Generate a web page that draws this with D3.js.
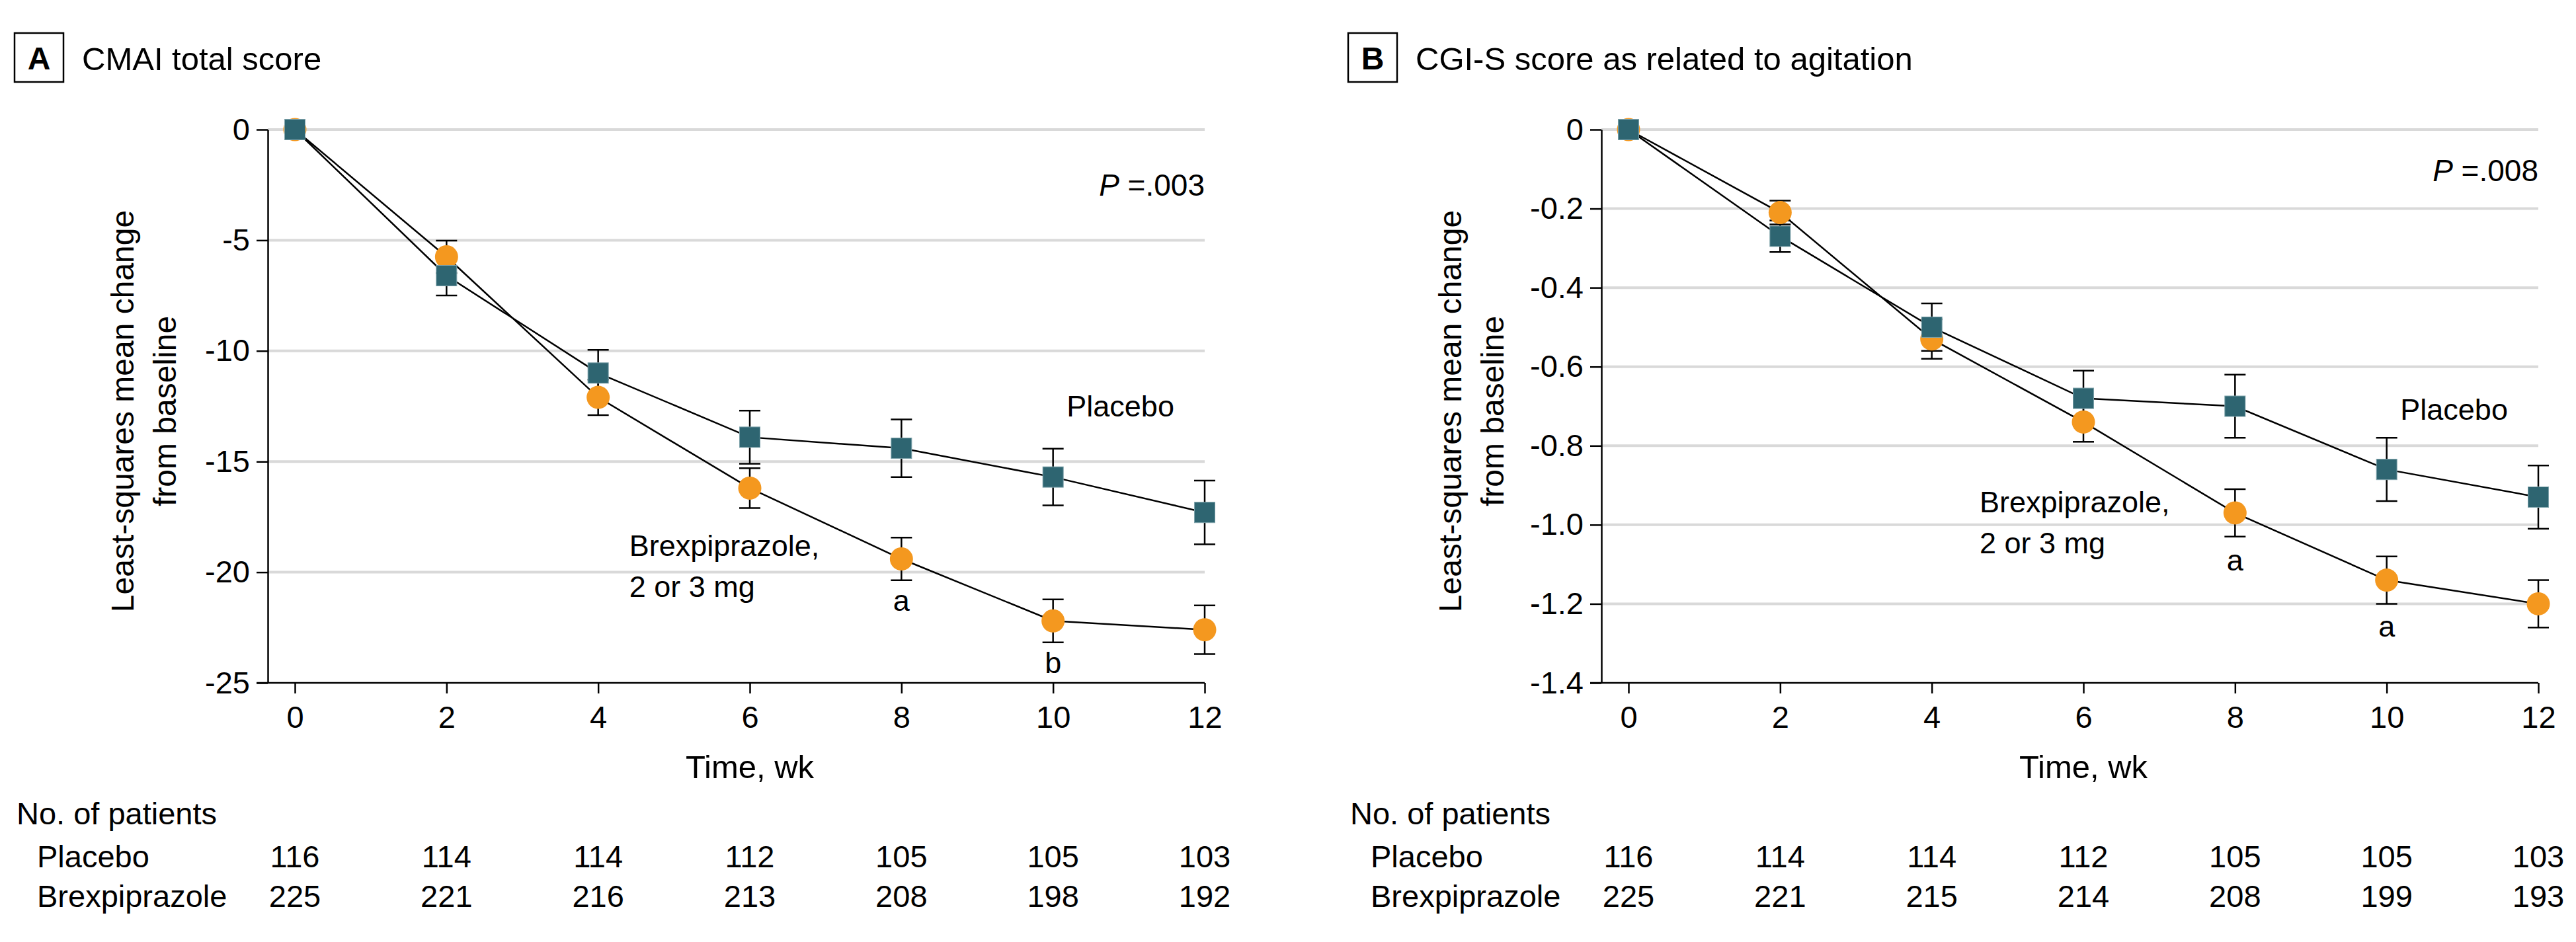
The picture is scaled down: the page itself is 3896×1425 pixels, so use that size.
<!DOCTYPE html>
<html>
<head>
<meta charset="utf-8">
<script src="https://cdn.jsdelivr.net/npm/d3@7"></script>
<style>
  body { margin: 0; background: #fff; }
  svg text { font-family: "Liberation Sans", Arial, sans-serif; fill: #000; }
</style>
</head>
<body>
<svg id="viz" width="3896" height="1425"></svg>
<script>
"use strict";
// weeks on the x axis
const weeks = [0, 2, 4, 6, 8, 10, 12];

// panel A: CMAI total score
const placeboA = [0, -6.6, -11.0, -13.9, -14.4, -15.7, -17.3];
const placeboASe = [0, 0.9, 1.05, 1.2, 1.3, 1.28, 1.44];
const brexA = [0, -5.75, -12.1, -16.2, -19.4, -22.2, -22.6];
const brexASe = [0, 0.73, 0.8, 0.9, 0.96, 0.97, 1.1];
const yTicksA = [0, -5, -10, -15, -20, -25];
const yLabelsA = ["0", "-5", "-10", "-15", "-20", "-25"];
const nPlaceboA = [116, 114, 114, 112, 105, 105, 103];
const nBrexA = [225, 221, 216, 213, 208, 198, 192];

// panel B: CGI-S score
const placeboB = [0, -0.27, -0.50, -0.68, -0.70, -0.86, -0.93];
const placeboBSe = [0, 0.04, 0.06, 0.07, 0.08, 0.08, 0.08];
const brexB = [0, -0.21, -0.53, -0.74, -0.97, -1.14, -1.20];
const brexBSe = [0, 0.03, 0.05, 0.05, 0.06, 0.06, 0.06];
const yTicksB = [0, -0.2, -0.4, -0.6, -0.8, -1.0, -1.2, -1.4];
const yLabelsB = ["0", "-0.2", "-0.4", "-0.6", "-0.8", "-1.0", "-1.2", "-1.4"];
const nPlaceboB = [116, 114, 114, 112, 105, 105, 103];
const nBrexB = [225, 221, 215, 214, 208, 199, 193];

const svg = d3.select("#viz");
const teal = "#2e6571", orange = "#f4981f", grid = "#d9d9d9";

function drawPanel(p) {
    let g = svg.append("g").attr("transform", `translate(${p.dx}, 0)`);
    let axisX = 405, top = 196, bottom = 1033;
    let x = d3.scaleLinear().domain([0, 12]).range([446, 1822]);
    let y = d3.scaleLinear().domain([0, p.yTicks[p.yTicks.length - 1]]).range([top, bottom]);

    // title
    g.append("rect").attr("x", 22).attr("y", 50).attr("width", 74).attr("height", 74)
        .attr("fill", "none").attr("stroke", "#000").attr("stroke-width", 2.5);
    g.append("text").attr("x", 59).attr("y", 105).attr("text-anchor", "middle")
        .style("font-size", "48px").style("font-weight", "bold").text(p.letter);
    g.append("text").attr("x", 124).attr("y", 106).style("font-size", "49px").text(p.title);

    // gridlines
    g.selectAll(".grid").data(p.yTicks.slice(0, -1)).enter().append("line")
        .attr("x1", axisX).attr("x2", x(12))
        .attr("y1", d => y(d)).attr("y2", d => y(d))
        .attr("stroke", grid).attr("stroke-width", 4);

    // axes
    let ya = g.append("g").attr("transform", `translate(${axisX}, 0)`)
        .call(d3.axisLeft(y).tickValues(p.yTicks).tickFormat((d, i) => p.yLabels[i])
            .tickSize(17).tickSizeOuter(0).tickPadding(10));
    ya.select(".domain").attr("stroke-width", 2.5);
    ya.selectAll(".tick line").attr("stroke-width", 2.5);
    ya.selectAll("text").style("font-size", "47px").attr("font-family", null);

    let xa = g.append("g").attr("transform", `translate(0, ${bottom})`)
        .call(d3.axisBottom(x).tickValues(weeks).tickSize(16).tickSizeOuter(0).tickPadding(19));
    xa.select(".domain").remove();
    xa.selectAll(".tick line").attr("stroke-width", 2.5);
    xa.selectAll("text").style("font-size", "47px").attr("font-family", null);
    g.append("line").attr("x1", axisX - 17).attr("x2", x(12))
        .attr("y1", bottom).attr("y2", bottom).attr("stroke", "#000").attr("stroke-width", 2.5);

    g.append("text").attr("x", x(6)).attr("y", 1177).attr("text-anchor", "middle")
        .style("font-size", "49px").text("Time, wk");

    g.append("text").attr("transform", `translate(${p.yLabX}, 622) rotate(-90)`)
        .attr("text-anchor", "middle").style("font-size", "48px").text("Least-squares mean change");
    g.append("text").attr("transform", `translate(${p.yLabX + 64}, 622) rotate(-90)`)
        .attr("text-anchor", "middle").style("font-size", "48px").text("from baseline");

    // series
    let line = d3.line().x((d, i) => x(weeks[i])).y(d => y(d));
    [p.brex, p.placebo].forEach(s => {
        g.append("path").attr("d", line(s)).attr("fill", "none")
            .attr("stroke", "#000").attr("stroke-width", 2.5);
    });
    [[p.brex, p.brexSe], [p.placebo, p.placeboSe]].forEach(([s, se]) => {
        let eb = g.append("g");
        s.forEach((v, i) => {
            if (!se[i]) return;
            let cx = x(weeks[i]);
            eb.append("line").attr("x1", cx).attr("x2", cx)
                .attr("y1", y(v - se[i])).attr("y2", y(v + se[i]));
            [v - se[i], v + se[i]].forEach(c => {
                eb.append("line").attr("x1", cx - 16).attr("x2", cx + 16)
                    .attr("y1", y(c)).attr("y2", y(c));
            });
        });
        eb.selectAll("line").attr("stroke", "#000").attr("stroke-width", 2.5);
    });
    g.selectAll(".brex").data(p.brex).enter().append("circle")
        .attr("cx", (d, i) => x(weeks[i])).attr("cy", d => y(d)).attr("r", 17.5)
        .attr("fill", orange);
    g.selectAll(".placebo").data(p.placebo).enter().append("rect")
        .attr("x", (d, i) => x(weeks[i]) - 15.5).attr("y", d => y(d) - 15.5)
        .attr("width", 31).attr("height", 31)
        .attr("fill", teal).attr("stroke", "#7fa3ab").attr("stroke-width", 1);

    // annotations
    let ann = p.ann;
    g.append("text").attr("x", x(ann.p[0])).attr("y", y(ann.p[1])).attr("text-anchor", "end")
        .style("font-size", "46px")
        .html(`<tspan font-style="italic">P</tspan> =${ann.pText}`);
    g.append("text").attr("x", x(ann.placebo[0])).attr("y", y(ann.placebo[1]))
        .style("font-size", "45px").text("Placebo");
    let bl = g.append("text").attr("x", x(ann.brex[0])).attr("y", y(ann.brex[1]))
        .style("font-size", "45px");
    bl.append("tspan").text("Brexpiprazole,");
    bl.append("tspan").attr("x", x(ann.brex[0])).attr("dy", 62).text("2 or 3 mg");
    ann.marks.forEach(m => {
        g.append("text").attr("x", x(m[0])).attr("y", y(m[1])).attr("text-anchor", "middle")
            .style("font-size", "45px").text(m[2]);
    });

    // number of patients
    g.append("text").attr("x", 25).attr("y", 1247).style("font-size", "47px").text("No. of patients");
    [["Placebo", p.nPlacebo, 1312], ["Brexpiprazole", p.nBrex, 1372]].forEach(([lab, n, yy]) => {
        g.append("text").attr("x", 56).attr("y", yy).style("font-size", "47px").text(lab);
        g.selectAll(null).data(n).enter().append("text")
            .attr("x", (d, i) => x(weeks[i])).attr("y", yy).attr("text-anchor", "middle")
            .style("font-size", "47px").text(d => d);
    });
}

drawPanel({
    dx: 0, letter: "A", title: "CMAI total score",
    yTicks: yTicksA, yLabels: yLabelsA, yLabX: 202,
    placebo: placeboA, placeboSe: placeboASe, brex: brexA, brexSe: brexASe,
    nPlacebo: nPlaceboA, nBrex: nBrexA,
    ann: { p: [12, -2.99], pText: ".003", placebo: [10.18, -12.96], brex: [4.41, -19.28],
        marks: [[8, -21.73, "a"], [10, -24.54, "b"]] }
});
drawPanel({
    dx: 2017, letter: "B", title: "CGI-S score as related to agitation",
    yTicks: yTicksB, yLabels: yLabelsB, yLabX: 193,
    placebo: placeboB, placeboSe: placeboBSe, brex: brexB, brexSe: brexBSe,
    nPlacebo: nPlaceboB, nBrex: nBrexB,
    ann: { p: [12, -0.131], pText: ".008", placebo: [10.18, -0.734], brex: [4.63, -0.969],
        marks: [[8, -1.116, "a"], [10, -1.283, "a"]] }
});
</script>
</body>
</html>
